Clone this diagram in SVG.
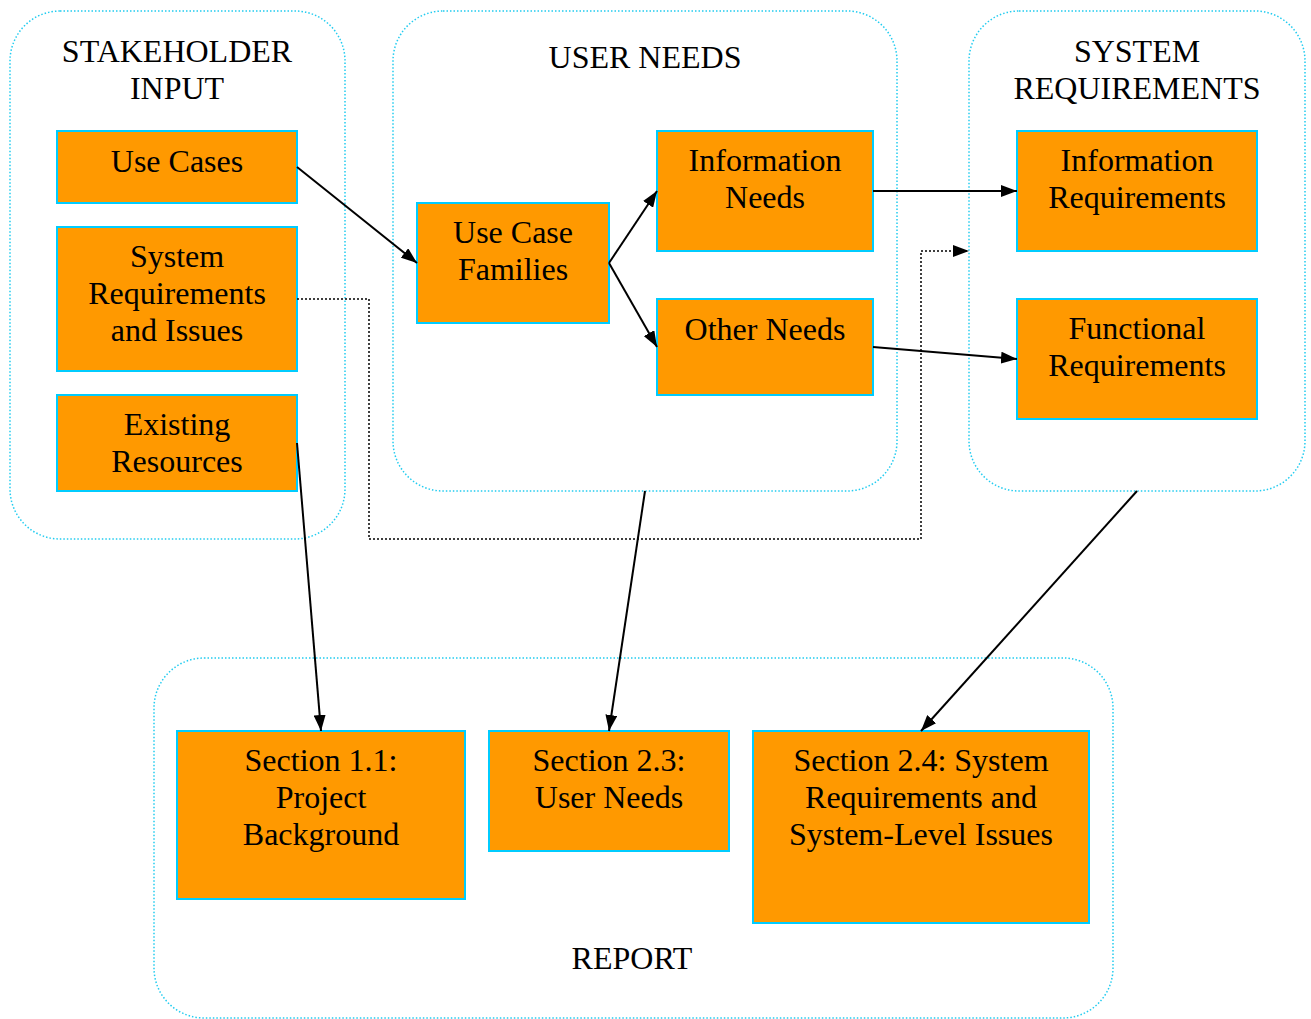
<svg xmlns="http://www.w3.org/2000/svg" width="1311" height="1019" viewBox="0 0 1311 1019">
<style>
.grp{fill:none;stroke:#22ccf0;stroke-width:1.5;stroke-dasharray:1.5 2}
.box{fill:#ff9900;stroke:#00ccff;stroke-width:2}
text{font-family:"Liberation Serif","Times New Roman",serif;font-size:32px;fill:#000;text-anchor:middle}
.c{fill:none;stroke:#000;stroke-width:2}
.d{fill:none;stroke:#000;stroke-width:1.5;stroke-dasharray:2 2}
</style>
<defs>
<marker id="ah" viewBox="0 0 16 12" refX="16" refY="6" markerWidth="16" markerHeight="12" markerUnits="userSpaceOnUse" orient="auto">
<path d="M0,0 L16,6 L0,12 z" fill="#000"/>
</marker>
</defs>
<rect width="1311" height="1019" fill="#fff"/>
<g id="stakeholder-input">
<rect class="grp" x="10" y="11" width="335" height="528" rx="50"/>
<text x="177" y="62">STAKEHOLDER</text>
<text x="177" y="99">INPUT</text>
</g>
<g id="user-needs">
<rect class="grp" x="393" y="11" width="504" height="480" rx="50"/>
<text x="645" y="68">USER NEEDS</text>
</g>
<g id="system-requirements">
<rect class="grp" x="969" y="11" width="336" height="480" rx="50"/>
<text x="1137" y="62">SYSTEM</text>
<text x="1137" y="99">REQUIREMENTS</text>
</g>
<g id="report">
<rect class="grp" x="154" y="658" width="959" height="360" rx="50"/>
<text x="632" y="969">REPORT</text>
</g>
<g id="use-cases">
<rect class="box" x="57" y="131" width="240" height="72"/>
<text x="177" y="172">Use Cases</text>
</g>
<g id="system-requirements-and-issues">
<rect class="box" x="57" y="227" width="240" height="144"/>
<text x="177" y="267">System</text>
<text x="177" y="304">Requirements</text>
<text x="177" y="341">and Issues</text>
</g>
<g id="existing-resources">
<rect class="box" x="57" y="395" width="240" height="96"/>
<text x="177" y="435">Existing</text>
<text x="177" y="472">Resources</text>
</g>
<g id="use-case-families">
<rect class="box" x="417" y="203" width="192" height="120"/>
<text x="513" y="243">Use Case</text>
<text x="513" y="280">Families</text>
</g>
<g id="information-needs">
<rect class="box" x="657" y="131" width="216" height="120"/>
<text x="765" y="171">Information</text>
<text x="765" y="208">Needs</text>
</g>
<g id="other-needs">
<rect class="box" x="657" y="299" width="216" height="96"/>
<text x="765" y="340">Other Needs</text>
</g>
<g id="information-requirements">
<rect class="box" x="1017" y="131" width="240" height="120"/>
<text x="1137" y="171">Information</text>
<text x="1137" y="208">Requirements</text>
</g>
<g id="functional-requirements">
<rect class="box" x="1017" y="299" width="240" height="120"/>
<text x="1137" y="339">Functional</text>
<text x="1137" y="376">Requirements</text>
</g>
<g id="section-1-1">
<rect class="box" x="177" y="731" width="288" height="168"/>
<text x="321" y="771">Section 1.1:</text>
<text x="321" y="808">Project</text>
<text x="321" y="845">Background</text>
</g>
<g id="section-2-3">
<rect class="box" x="489" y="731" width="240" height="120"/>
<text x="609" y="771">Section 2.3:</text>
<text x="609" y="808">User Needs</text>
</g>
<g id="section-2-4">
<rect class="box" x="753" y="731" width="336" height="192"/>
<text x="921" y="771">Section 2.4: System</text>
<text x="921" y="808">Requirements and</text>
<text x="921" y="845">System-Level Issues</text>
</g>
<g id="connectors">
<path class="c" d="M297,167 L417,263" marker-end="url(#ah)"/>
<path class="c" d="M609,263 L657,191" marker-end="url(#ah)"/>
<path class="c" d="M609,263 L657,347" marker-end="url(#ah)"/>
<path class="c" d="M873,191 L1017,191" marker-end="url(#ah)"/>
<path class="c" d="M873,347 L1017,359" marker-end="url(#ah)"/>
<path class="d" d="M297,299 L369,299 L369,539 L921,539 L921,251 L969,251" marker-end="url(#ah)"/>
<path class="c" d="M297,443 L321,731" marker-end="url(#ah)"/>
<path class="c" d="M645,491 L609,731" marker-end="url(#ah)"/>
<path class="c" d="M1137,491 L921,731" marker-end="url(#ah)"/>
</g>
</svg>
